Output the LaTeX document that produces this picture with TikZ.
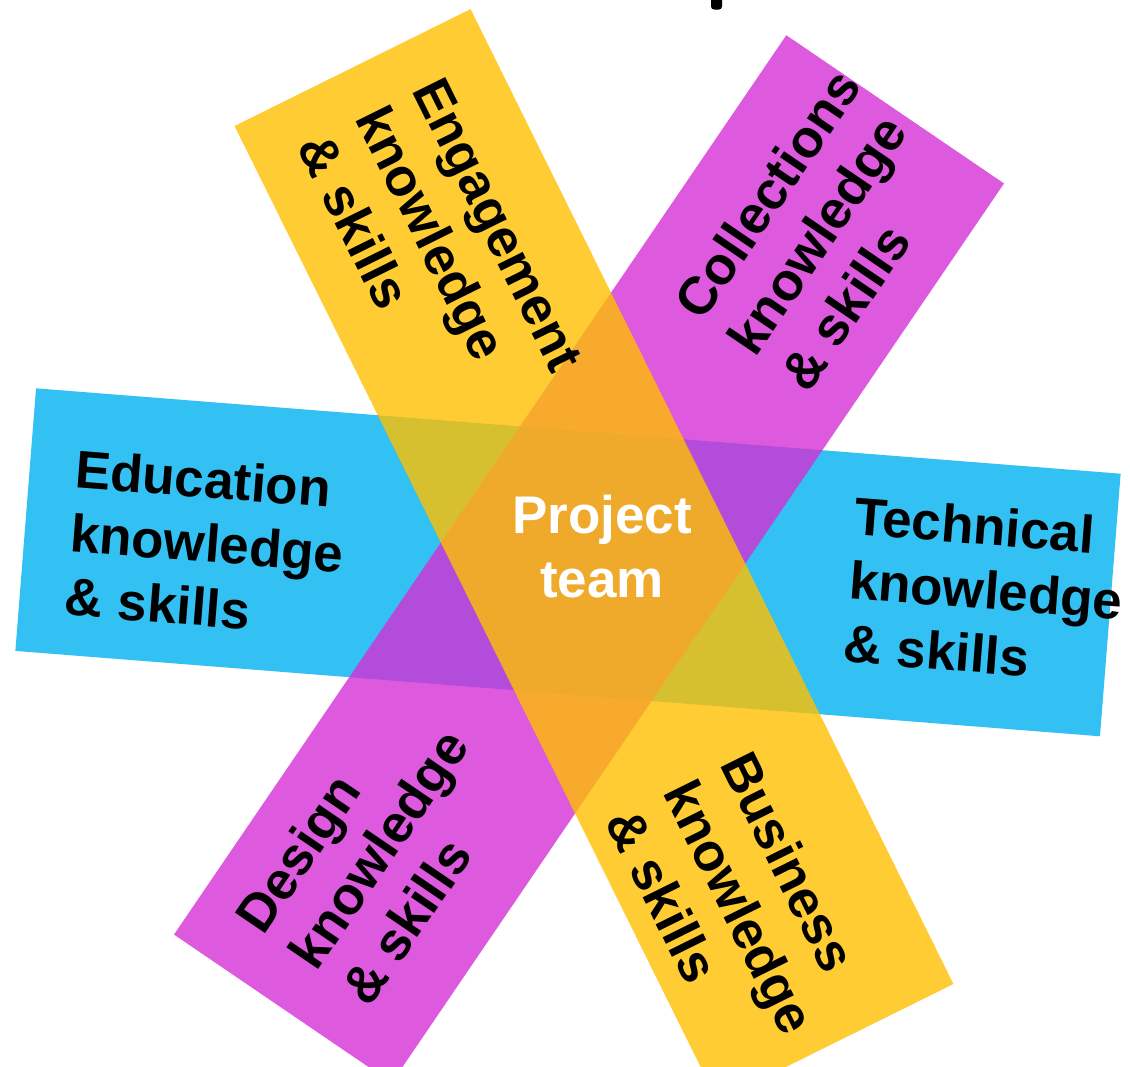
\documentclass[tikz,border=0pt]{standalone}
\usepackage{fontspec}
\setmainfont{Liberation Sans}
\definecolor{bandblue}{RGB}{0,176,240}
\definecolor{bandyellow}{RGB}{255,192,0}
\definecolor{bandmagenta}{RGB}{212,48,212}
\begin{document}
\begin{tikzpicture}[x=1pt,y=-1pt,
  band/.style={fill opacity=0.8},
  lab/.style={font=\fontsize{53}{64}\selectfont\bfseries, align=left, inner sep=0pt, text=black},
  core/.style={font=\fontsize{53}{64}\selectfont\bfseries, align=center, inner sep=0pt, text=white}]
\useasboundingbox (0,0) rectangle (1130,1066);
\clip (0,0) rectangle (1130,1066);
% bands
\begin{scope}[shift={(568,562.3)},rotate=-4.5]
  \fill[bandblue,band] (-544,-131.7) rectangle (544,131.7);
\end{scope}
\begin{scope}[shift={(589,559)},rotate=55.75]
  \fill[bandmagenta,band] (-544,-131.7) rectangle (544,131.7);
\end{scope}
\begin{scope}[shift={(594,555)},rotate=-63.65]
  \fill[bandyellow,band] (-544,-131.7) rectangle (544,131.7);
\end{scope}
% fragment of a cut-off letter at the top
\fill[black,rounded corners=3pt] (711,-6) rectangle (722,9.5);
% labels
\node[core] (team) at (602,546.5) {Project\\team};
\node[lab,rotate=-4.5] (edu) at (207,543) {Education\\knowledge\\\& skills};
\node[lab,rotate=-4.5] (tech) at (986,590) {Technical\\knowledge\\\& skills};
\node[lab,rotate=-63.65] (eng) at (441,253) {Engagement\\knowledge\\\& skills};
\node[lab,rotate=-63.65] (bus) at (740,907) {Business\\knowledge\\\& skills};
\node[lab,rotate=55.75] (coll) at (820,230) {Collections\\knowledge\\\& skills};
\node[lab,rotate=55.75] (des) at (378,849) {Design\\knowledge\\\& skills};
\end{tikzpicture}
\end{document}
